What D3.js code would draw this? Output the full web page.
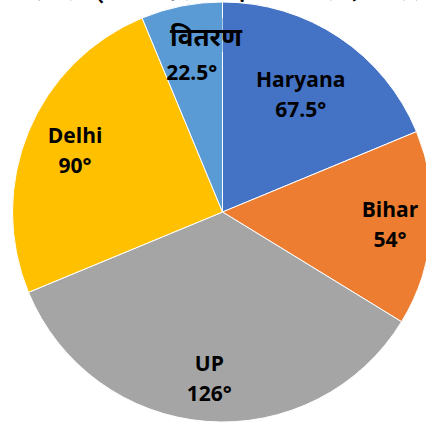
<!DOCTYPE html>
<html>
<head>
<meta charset="utf-8">
<script src="https://cdn.jsdelivr.net/npm/d3@7"></script>
<style>
  body { margin: 0; background: #fff; }
  svg { display: block; }
</style>
</head>
<body>
<div class="pie"></div>
<script>
// data (degrees)
const states = ["Haryana", "Bihar", "UP", "Delhi", "RP"];
const degrees = [67.5, 54, 126, 90, 22.5];
const colors = ["#4472C4", "#ED7D31", "#A5A5A5", "#FFC000", "#5B9BD5"];
const titleText = "निम्नलिखित पाई चार्ट विभिन्न राज्यों में एक कंपनी के उत्पादों का वितरण";
const overlayText = "वितरण";

// where each label sits, as a fraction of the radius
const labelRatio = [0.67, 0.8, 0.8, 0.76, 0.75];

function create_pie() {
	const width = 426;
	const height = 424;
	const cx = 222.5, cy = 212, r = 210;

	const svg = d3.select('.pie')
		.append('svg')
		.attr('width', width)
		.attr('height', height);

	const pie = d3.pie().sort(null).value(d => d.deg);
	const arc = d3.arc().innerRadius(0).outerRadius(r);
	const data = states.map((s, i) => ({ name: s, deg: degrees[i], i: i }));
	const arcs = pie(data);

	const g = svg.append('g').attr('transform', `translate(${cx},${cy})`);

	g.selectAll('path')
		.data(arcs)
		.enter()
		.append('path')
		.attr('d', arc)
		.attr('fill', d => colors[d.data.i])
		.attr('stroke', '#fff')
		.attr('stroke-width', 1);

	const labels = g.selectAll('g.lbl')
		.data(arcs)
		.enter()
		.append('g')
		.attr('class', 'lbl')
		.attr('transform', function(d) {
			const a = (d.startAngle + d.endAngle) / 2;
			const rr = r * labelRatio[d.data.i];
			return `translate(${rr * Math.sin(a)},${-rr * Math.cos(a)})`;
		})
		.attr('font-family', "'Open Sans', sans-serif")
		.attr('font-weight', 'bold')
		.attr('font-size', '21px')
		.attr('text-anchor', 'middle')
		.attr('fill', '#000');

	labels.append('text')
		.attr('y', -8)
		.text(d => d.data.name);
	labels.append('text')
		.attr('y', 22)
		.text(d => `${d.data.deg}°`);

	// the small slice's own label is mostly covered by a pasted patch
	const small = arcs[arcs.length - 1];
	svg.append('clipPath')
		.attr('id', 'smallclip')
		.append('path')
		.attr('transform', `translate(${cx},${cy})`)
		.attr('d', arc(small));
	svg.append('rect')
		.attr('x', 165)
		.attr('y', 18)
		.attr('width', 80)
		.attr('height', 34)
		.attr('fill', colors[colors.length - 1])
		.attr('clip-path', 'url(#smallclip)');

	svg.append('text')
		.attr('x', 206)
		.attr('y', 46)
		.attr('text-anchor', 'middle')
		.attr('font-family', "'Noto Sans', sans-serif")
		.attr('font-weight', 'bold')
		.attr('font-size', '26px')
		.text(overlayText);

	// cut-off heading at the very top
	svg.append('text')
		.attr('x', -4)
		.attr('y', -0.5)
		.attr('font-family', "'Noto Sans', sans-serif")
		.attr('font-weight', 'bold')
		.attr('font-size', '20px')
		.attr('textLength', 434)
		.text(titleText);
}

create_pie();
</script>
</body>
</html>
